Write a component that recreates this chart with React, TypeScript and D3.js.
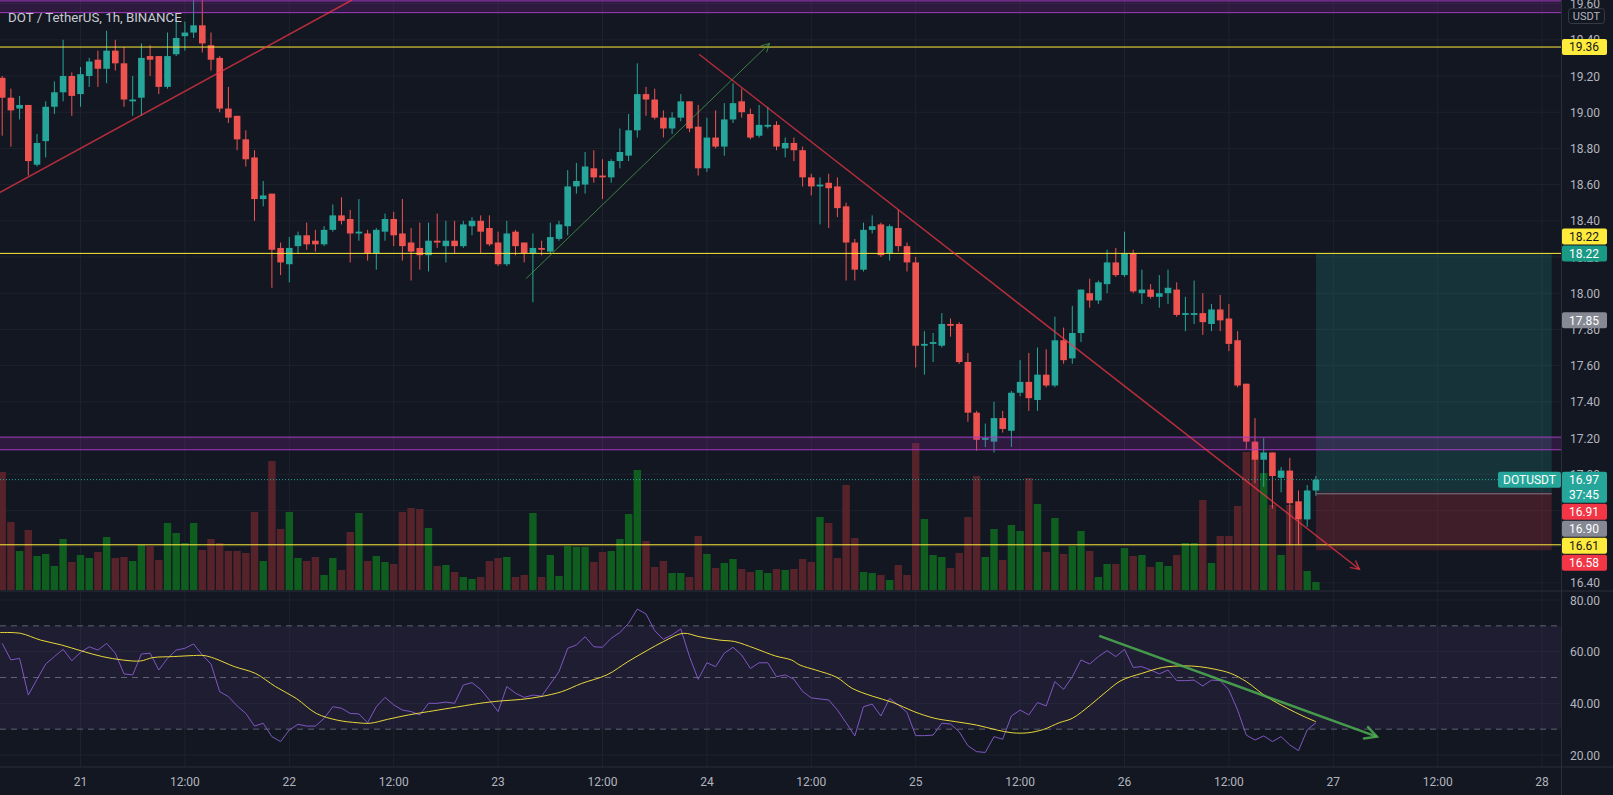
import { useRef, useEffect } from "react";
import * as d3 from "d3";

// first bar is 9 hours before day 21 00:00, one bar per hour
const firstHour = -9;

const open = [
    19.19, 19.08, 19.02, 19.04, 18.71, 18.84, 19.03, 19.11, 19.2, 19.1,
    19.2, 19.29, 19.24, 19.34, 19.27, 19.06, 19.08, 19.31, 19.31, 19.14,
    19.32, 19.42, 19.44, 19.48, 19.37, 19.3, 19.02, 18.98, 18.85, 18.75,
    18.52, 18.55, 18.25, 18.16, 18.26, 18.32, 18.29, 18.27, 18.35, 18.43,
    18.41, 18.33, 18.33, 18.22, 18.34, 18.41, 18.33, 18.28, 18.25, 18.21,
    18.29, 18.26, 18.29, 18.26, 18.37, 18.4, 18.36, 18.28, 18.16, 18.34,
    18.28, 18.22, 18.25, 18.23, 18.3, 18.37, 18.59, 18.6, 18.69, 18.65,
    18.64, 18.73, 18.76, 18.9, 19.1, 19.07, 18.97, 18.91, 18.97, 19.06,
    18.92, 18.69, 18.86, 18.81, 18.96, 19.06, 18.99, 18.87, 18.92, 18.93,
    18.8, 18.83, 18.79, 18.64, 18.59, 18.61, 18.59, 18.48, 18.28, 18.13,
    18.35, 18.38, 18.22, 18.36, 18.26, 18.17, 17.71, 17.72, 17.71, 17.83,
    17.83, 17.62, 17.34, 17.19, 17.18, 17.31, 17.24, 17.45, 17.51, 17.41,
    17.55, 17.49, 17.74, 17.64, 17.78, 18.0, 17.96, 18.05, 18.17, 18.1,
    18.22, 18.0, 18.02, 17.98, 18.0, 18.02, 17.88, 17.88, 17.89, 17.83,
    17.91, 17.86, 17.74, 17.5, 17.18, 17.08, 17.12, 16.98, 17.02, 16.85,
    16.75, 16.91,
];
const high = [
    19.2, 19.13, 19.09, 19.04, 18.88, 19.06, 19.17, 19.4, 19.22, 19.25,
    19.3, 19.34, 19.45, 19.4, 19.36, 19.2, 19.38, 19.37, 19.31, 19.44,
    19.52, 19.5, 19.65, 19.66, 19.44, 19.31, 19.14, 18.98, 18.9, 18.79,
    18.62, 18.55, 18.28, 18.31, 18.34, 18.39, 18.35, 18.37, 18.49, 18.53,
    18.46, 18.52, 18.35, 18.36, 18.44, 18.45, 18.52, 18.36, 18.39, 18.39,
    18.44, 18.4, 18.4, 18.4, 18.42, 18.43, 18.43, 18.34, 18.4, 18.35,
    18.28, 18.33, 18.29, 18.39, 18.4, 18.68, 18.72, 18.78, 18.79, 18.74,
    18.74, 18.91, 18.99, 19.27, 19.14, 19.13, 19.01, 19.0, 19.1, 19.06,
    19.04, 18.97, 19.01, 19.05, 19.16, 19.13, 19.02, 19.04, 19.03, 18.95,
    18.86, 18.86, 18.81, 18.66, 18.64, 18.66, 18.64, 18.5, 18.3, 18.39,
    18.43, 18.39, 18.38, 18.46, 18.28, 18.2, 17.79, 17.78, 17.89, 17.86,
    17.84, 17.67, 17.35, 17.28, 17.4, 17.35, 17.46, 17.63, 17.67, 17.7,
    17.69, 17.87, 17.81, 17.93, 18.02, 18.08, 18.07, 18.24, 18.25, 18.34,
    18.24, 18.13, 18.05, 18.1, 18.13, 18.06, 17.98, 18.07, 18.0, 17.94,
    17.99, 17.94, 17.79, 17.5, 17.31, 17.2, 17.12, 17.04, 17.09, 16.91,
    16.94, 16.99,
];
const low = [
    18.87, 18.81, 18.96, 18.65, 18.7, 18.75, 18.99, 19.06, 18.98, 19.03,
    19.14, 19.14, 19.16, 19.23, 19.03, 18.98, 18.98, 19.2, 19.1, 19.13,
    19.31, 19.34, 19.41, 19.33, 19.23, 19.0, 18.94, 18.79, 18.7, 18.4,
    18.48, 18.03, 18.1, 18.06, 18.22, 18.24, 18.23, 18.26, 18.34, 18.38,
    18.17, 18.29, 18.18, 18.13, 18.29, 18.26, 18.18, 18.07, 18.13, 18.12,
    18.25, 18.17, 18.22, 18.25, 18.32, 18.22, 18.26, 18.15, 18.15, 18.21,
    18.17, 17.95, 18.21, 18.22, 18.29, 18.32, 18.55, 18.55, 18.61, 18.52,
    18.61, 18.69, 18.73, 18.86, 18.98, 18.96, 18.86, 18.88, 18.95, 18.89,
    18.65, 18.67, 18.8, 18.76, 18.94, 18.97, 18.85, 18.86, 18.91, 18.79,
    18.75, 18.73, 18.59, 18.54, 18.38, 18.36, 18.42, 18.07, 18.07, 18.12,
    18.33, 18.2, 18.18, 18.23, 18.12, 17.59, 17.55, 17.62, 17.7, 17.76,
    17.61, 17.29, 17.13, 17.15, 17.12, 17.23, 17.15, 17.43, 17.35, 17.35,
    17.48, 17.48, 17.61, 17.61, 17.73, 17.92, 17.94, 18.0, 18.09, 18.09,
    18.0, 17.94, 17.97, 17.92, 17.94, 17.87, 17.79, 17.83, 17.77, 17.79,
    17.79, 17.68, 17.48, 17.14, 16.95, 16.93, 16.81, 16.9, 16.61, 16.61,
    16.71, 16.88,
];
const close = [
    19.08, 19.01, 19.04, 18.73, 18.83, 19.03, 19.11, 19.2, 19.09, 19.21,
    19.28, 19.24, 19.34, 19.27, 19.07, 19.07, 19.3, 19.29, 19.14, 19.31,
    19.41, 19.44, 19.48, 19.38, 19.29, 19.02, 18.97, 18.85, 18.74, 18.52,
    18.54, 18.24, 18.17, 18.25, 18.32, 18.27, 18.27, 18.35, 18.43, 18.4,
    18.33, 18.34, 18.22, 18.35, 18.41, 18.32, 18.26, 18.23, 18.21, 18.29,
    18.28, 18.29, 18.26, 18.38, 18.4, 18.34, 18.27, 18.16, 18.33, 18.26,
    18.22, 18.25, 18.24, 18.31, 18.38, 18.59, 18.62, 18.7, 18.64, 18.64,
    18.73, 18.78, 18.9, 19.1, 19.07, 18.97, 18.91, 18.97, 19.06, 18.91,
    18.69, 18.86, 18.81, 18.96, 19.05, 19.0, 18.86, 18.93, 18.93, 18.81,
    18.83, 18.79, 18.64, 18.59, 18.6, 18.58, 18.47, 18.28, 18.13, 18.35,
    18.37, 18.21, 18.37, 18.26, 18.17, 17.71, 17.72, 17.73, 17.83, 17.82,
    17.62, 17.34, 17.19, 17.2, 17.31, 17.25, 17.45, 17.51, 17.42, 17.55,
    17.49, 17.74, 17.63, 17.78, 18.02, 17.96, 18.06, 18.17, 18.1, 18.22,
    18.01, 18.02, 17.98, 18.0, 18.03, 17.88, 17.89, 17.89, 17.84, 17.91,
    17.85, 17.72, 17.49, 17.18, 17.08, 17.12, 16.99, 17.02, 16.84, 16.75,
    16.91, 16.97,
];
const volume = [
    118, 68, 39, 60, 34, 36, 24, 51, 28, 35,
    32, 38, 53, 32, 33, 29, 45, 44, 30, 67,
    57, 47, 67, 40, 51, 47, 39, 39, 37, 78,
    29, 129, 61, 78, 32, 29, 33, 15, 32, 20,
    58, 77, 29, 34, 28, 26, 78, 82, 81, 62,
    24, 25, 18, 13, 11, 13, 29, 32, 33, 13,
    15, 77, 13, 35, 14, 44, 43, 43, 28, 38,
    39, 51, 76, 120, 49, 23, 29, 17, 17, 13,
    54, 36, 22, 27, 31, 21, 18, 20, 17, 21,
    20, 21, 31, 28, 73, 67, 32, 105, 52, 18,
    17, 15, 10, 25, 15, 147, 71, 35, 33, 22,
    37, 73, 114, 33, 61, 30, 65, 59, 112, 86,
    38, 72, 36, 44, 59, 39, 13, 26, 26, 42,
    34, 35, 23, 28, 24, 35, 47, 47, 90, 27,
    54, 54, 84, 138, 138, 117, 85, 35, 85, 70,
    19, 8,
];
const rsi = [
    63.2, 56.8, 57.4, 43.2, 49.3, 55.2, 58.1, 60.9, 56.5, 59.7,
    61.9, 60.6, 63.2, 59.4, 51.4, 51.0, 59.1, 59.4, 52.9, 57.4,
    60.6, 61.3, 63.0, 58.7, 55.2, 44.5, 42.6, 39.0, 36.1, 31.2,
    32.3, 27.1, 25.2, 29.7, 31.9, 31.2, 31.2, 34.2, 38.7, 38.1,
    36.1, 35.9, 32.5, 38.7, 42.3, 39.4, 37.4, 36.8, 35.5, 40.0,
    40.0, 40.5, 40.0, 47.1, 48.0, 45.4, 41.3, 36.8, 46.5, 43.9,
    42.3, 43.2, 42.8, 47.5, 52.3, 61.3, 62.6, 65.8, 61.9, 61.7,
    65.2, 67.4, 71.0, 76.5, 74.6, 68.1, 64.8, 66.5, 68.8, 58.1,
    49.3, 55.7, 54.2, 59.4, 61.7, 58.7, 53.5, 55.7, 55.7, 50.3,
    51.0, 49.3, 44.6, 42.1, 41.7, 41.3, 37.4, 32.5, 27.4, 38.7,
    39.7, 35.1, 41.9, 39.4, 36.5, 27.5, 27.5, 27.7, 32.3, 32.0,
    29.0, 23.6, 21.3, 21.0, 27.1, 26.1, 35.1, 37.4, 35.5, 40.3,
    39.0, 48.4, 45.4, 50.3, 56.8, 55.2, 58.1, 60.4, 58.1, 60.9,
    53.9, 54.2, 52.9, 51.4, 52.9, 48.8, 48.8, 49.0, 46.7, 49.0,
    48.8, 45.2, 37.4, 27.7, 25.8, 27.4, 25.2, 27.1, 23.9, 21.7,
    29.7, 32.5,
];
// RSI moving average, read at bar positions (1 = first bar)
const rsiMaBar = [
    0.75, 3.1, 5.4, 7.8, 10.1, 12.5, 14.8, 16.9, 18.3, 20.7, 23.0, 24.2, 25.4, 27.7,
    30.1, 32.4, 34.8, 37.1, 39.5, 41.8, 43.3, 45.3, 47.7, 50, 52.4, 55.9, 58.2, 60.6,
    62.9, 65.3, 67.6, 70.5, 72.9, 75.2, 77, 79.3, 81.1, 83.4, 85.2, 87.5, 89.9, 91.7,
    92.7, 94.5, 96.9, 98.7, 101, 103.4, 105.8, 108.2, 110.6, 113, 115.3, 117.1, 118.9,
    120.7, 122.5, 124, 126.1, 127.9, 129.6, 132, 134.4, 136.8, 138.6, 140.4, 142.2,
    144, 146.3, 148.7, 150.5, 152,
];
const rsiMaValue = [
    67.4, 67.1, 64.5, 62.6, 60.3, 58.1, 56.8, 56.4, 57.7, 58.1, 58.5, 58.5, 57.4, 54.2,
    51.6, 46.5, 41.9, 36.1, 33.5, 32.5, 32.3, 33.8, 35.5, 36.8, 38.1, 40, 40.9, 41.5,
    42.6, 44.5, 47.7, 51, 56.1, 60.6, 63.9, 67.1, 65.8, 64.5, 63.9, 61.3, 58.3, 56.8,
    54.8, 52.9, 50.1, 45.8, 42.8, 40.3, 36.8, 34.2, 32.9, 31.6, 29.7, 28.6, 28.6,
    29.9, 32.5, 34.2, 39.4, 44.5, 48.8, 51.6, 53.9, 54.5, 54.2, 53.2, 51.6,
    48.4, 42.6, 38.1, 35.1, 32.9,
];

const timeTickHours = [0, 12, 24, 36, 48, 60, 72, 84, 96, 108, 120, 132, 144, 156, 168];
const timeTickLabels = ["21", "12:00", "22", "12:00", "23", "12:00", "24", "12:00", "25", "12:00", "26", "12:00", "27", "12:00", "28"];
const priceTicks = [16.4, 16.6, 16.8, 17.0, 17.2, 17.4, 17.6, 17.8, 18.0, 18.2, 18.4, 18.6, 18.8, 19.0, 19.2, 19.4, 19.6];
const rsiTicks = [80, 60, 40, 20];
const rsiLevels = [70, 50, 30];

const horizontalLines = [19.36, 18.22, 16.61];
const zoneLow = [19.55, 17.135];
const zoneHigh = [19.615, 17.205];

// trend lines: [hour, price]
const trendFrom = [[-9.5, 18.55], [51.2, 18.08], [71.1, 19.32]];
const trendTo = [[31.2, 19.62], [79.2, 19.38], [147, 16.475]];
const trendColor = ["rgba(242,54,69,0.72)", "rgba(76,175,80,0.7)", "rgba(242,54,69,0.72)"];
const trendWidth = [1.5, 1, 1.5];
const trendArrow = [false, true, true];

// rsi arrow: [hour, rsi]
const rsiArrowFrom = [117.1, 66.1];
const rsiArrowTo = [149, 27.1];

// long position tool
const positionHours = [142, 169.1];
const positionEntry = 16.9;
const positionTarget = 18.22;
const positionStop = 16.58;

const labelPrice = [19.36, 18.22, 18.22, 17.85, 16.97, 16.91, 16.9, 16.61, 16.58];
const labelText = ["19.36", "18.22", "18.22", "17.85", "16.97", "16.91", "16.90", "16.61", "16.58"];
const labelSub = ["", "", "", "", "37:45", "", "", "", ""];
const labelBg = ["#ffeb3b", "#1a9985", "#ffeb3b", "#868993", "#26a69a", "#f23645", "#868993", "#ffeb3b", "#f23645"];
const labelFg = ["#131722", "#ffffff", "#131722", "#ffffff", "#ffffff", "#ffffff", "#ffffff", "#131722", "#ffffff"];
const labelDir = [1, 1, -1, 1, 1, 1, 1, 1, 1];

const UP = "#26a69a";
const DOWN = "#ef5350";
const VOL_UP = "#105d20";
const VOL_DOWN = "#57232b";
const BG = "#131722";
const GRID = "#1e222d";
const TEXT = "#b2b5be";
const FONT = "Roboto, 'Noto Sans', sans-serif";

const App = () => {
    const svgRef = useRef<SVGSVGElement>(null);

    useEffect(() => {
        document.body.style.margin = "0";
        document.body.style.background = BG;
        if (!svgRef.current) return;

        const svg = d3.select(svgRef.current);
        svg.selectAll("*").remove();

        const width = 1613;
        const height = 795;
        const plotRight = 1561;
        const priceBottom = 590;
        const rsiTop = 592;
        const rsiBottom = 767;

        const x = d3.scaleLinear().domain([0, 168]).range([80.5, 1542.1]);
        const y = d3.scaleLinear().domain([19.2, 16.4]).range([76, 582.8]);
        const yR = d3.scaleLinear().domain([80, 20]).range([600, 755]);
        const yV = d3.scaleLinear().domain([0, 150]).range([priceBottom, priceBottom - 150]);

        const bars = d3.range(open.length).map((i) => ({
            h: firstHour + i,
            o: open[i],
            hi: high[i],
            lo: low[i],
            c: close[i],
            v: volume[i],
            r: rsi[i],
        }));
        const isUp = (d: any) => d.c >= d.o;

        svg.append("rect").attr("width", width).attr("height", height).attr("fill", BG);

        const defs = svg.append("defs");
        defs.append("clipPath").attr("id", "clipPrice")
            .append("rect").attr("x", 0).attr("y", 0).attr("width", plotRight).attr("height", priceBottom);
        defs.append("clipPath").attr("id", "clipRsi")
            .append("rect").attr("x", 0).attr("y", rsiTop).attr("width", plotRight).attr("height", rsiBottom - rsiTop);

        // grid
        const grid = svg.append("g").attr("stroke", GRID).attr("stroke-width", 1);
        timeTickHours.forEach((t) => {
            grid.append("line").attr("x1", x(t)).attr("x2", x(t)).attr("y1", 0).attr("y2", rsiBottom);
        });
        priceTicks.forEach((p) => {
            grid.append("line").attr("x1", 0).attr("x2", plotRight).attr("y1", y(p)).attr("y2", y(p));
        });
        rsiTicks.forEach((v) => {
            grid.append("line").attr("x1", 0).attr("x2", plotRight).attr("y1", yR(v)).attr("y2", yR(v));
        });

        // ---------- price pane ----------
        const pg = svg.append("g").attr("clip-path", "url(#clipPrice)");

        pg.append("g").selectAll("rect").data(bars).join("rect")
            .attr("x", (d) => x(d.h) - 3.7)
            .attr("width", 7.4)
            .attr("y", (d) => yV(d.v))
            .attr("height", (d) => yV(0) - yV(d.v))
            .attr("fill", (d) => (isUp(d) ? VOL_UP : VOL_DOWN));

        const cg = pg.append("g");
        cg.selectAll("line").data(bars).join("line")
            .attr("x1", (d) => x(d.h))
            .attr("x2", (d) => x(d.h))
            .attr("y1", (d) => y(d.hi))
            .attr("y2", (d) => y(d.lo))
            .attr("stroke", (d) => (isUp(d) ? UP : DOWN))
            .attr("stroke-width", 1);
        cg.selectAll("rect").data(bars).join("rect")
            .attr("x", (d) => x(d.h) - 3.3)
            .attr("width", 6.6)
            .attr("y", (d) => y(Math.max(d.o, d.c)))
            .attr("height", (d) => Math.max(1, Math.abs(y(d.o) - y(d.c))))
            .attr("fill", (d) => (isUp(d) ? UP : DOWN));

        // long position
        const px0 = x(positionHours[0]);
        const px1 = x(positionHours[1]);
        pg.append("rect").attr("x", px0).attr("width", px1 - px0)
            .attr("y", y(positionTarget)).attr("height", y(positionEntry) - y(positionTarget))
            .attr("fill", "rgba(38,166,154,0.2)");
        pg.append("rect").attr("x", px0).attr("width", px1 - px0)
            .attr("y", y(positionEntry)).attr("height", y(positionStop) - y(positionEntry))
            .attr("fill", "rgba(242,54,69,0.2)");
        pg.append("line").attr("x1", px0).attr("x2", px1)
            .attr("y1", y(positionEntry) + 1.5).attr("y2", y(positionEntry) + 1.5)
            .attr("stroke", "#787b86").attr("stroke-width", 1);

        // zones
        zoneLow.forEach((lo, i) => {
            const hi = zoneHigh[i];
            pg.append("rect").attr("x", 0).attr("width", plotRight)
                .attr("y", y(hi)).attr("height", y(lo) - y(hi))
                .attr("fill", "rgba(156,39,176,0.2)");
            [lo, hi].forEach((p) => {
                pg.append("line").attr("x1", 0).attr("x2", plotRight).attr("y1", y(p)).attr("y2", y(p))
                    .attr("stroke", "#a33bc0").attr("stroke-width", 1);
            });
        });

        // horizontal lines
        horizontalLines.forEach((p) => {
            pg.append("line").attr("x1", 0).attr("x2", plotRight).attr("y1", y(p)).attr("y2", y(p))
                .attr("stroke", "#ffeb3b").attr("stroke-width", 1);
        });

        const arrowHead = (g: any, x0: number, y0: number, x1: number, y1: number, len: number, color: string, w: number) => {
            const a = Math.atan2(y1 - y0, x1 - x0);
            const sp = Math.PI / 6.5;
            const p = d3.path();
            p.moveTo(x1 - len * Math.cos(a - sp), y1 - len * Math.sin(a - sp));
            p.lineTo(x1, y1);
            p.lineTo(x1 - len * Math.cos(a + sp), y1 - len * Math.sin(a + sp));
            g.append("path").attr("d", p.toString()).attr("fill", "none")
                .attr("stroke", color).attr("stroke-width", w).attr("stroke-linecap", "round");
        };

        // trend lines
        trendFrom.forEach((f, i) => {
            const t = trendTo[i];
            const x0 = x(f[0]), y0 = y(f[1]), x1 = x(t[0]), y1 = y(t[1]);
            pg.append("line").attr("x1", x0).attr("y1", y0).attr("x2", x1).attr("y2", y1)
                .attr("stroke", trendColor[i]).attr("stroke-width", trendWidth[i]);
            if (trendArrow[i]) arrowHead(pg, x0, y0, x1, y1, 9, trendColor[i], trendWidth[i]);
        });

        // last price line
        const last = bars[bars.length - 1];
        pg.append("line").attr("x1", 0).attr("x2", plotRight).attr("y1", y(last.c)).attr("y2", y(last.c))
            .attr("stroke", UP).attr("stroke-width", 1).attr("stroke-dasharray", "1,2");
        pg.append("rect").attr("x", plotRight - 63).attr("width", 63)
            .attr("y", y(last.c) - 8).attr("height", 16).attr("rx", 2).attr("fill", UP);
        pg.append("text").attr("x", plotRight - 31.5).attr("y", y(last.c) + 4.5)
            .attr("text-anchor", "middle").attr("fill", "#ffffff")
            .attr("font-family", FONT).attr("font-size", 12).text("DOTUSDT");

        // title
        svg.append("text").attr("x", 8).attr("y", 21.5)
            .attr("fill", "#c9cbd2").attr("font-family", FONT).attr("font-size", 13.3)
            .text("DOT / TetherUS, 1h, BINANCE");

        // ---------- RSI pane ----------
        const rg = svg.append("g").attr("clip-path", "url(#clipRsi)");
        rg.append("rect").attr("x", 0).attr("width", plotRight)
            .attr("y", yR(70)).attr("height", yR(30) - yR(70))
            .attr("fill", "rgba(126,87,194,0.1)");
        rsiLevels.forEach((v) => {
            rg.append("line").attr("x1", 0).attr("x2", plotRight).attr("y1", yR(v)).attr("y2", yR(v))
                .attr("stroke", "#787b86").attr("stroke-opacity", 0.75)
                .attr("stroke-width", 1).attr("stroke-dasharray", "6,5");
        });

        const rsiLine = d3.line<any>().x((d) => x(d.h)).y((d) => yR(d.r));
        rg.append("path").attr("d", rsiLine(bars)).attr("fill", "none")
            .attr("stroke", "#7e57c2").attr("stroke-width", 1);

        const maPts = rsiMaBar.map((b, i) => [x(firstHour + b - 1), yR(rsiMaValue[i])] as [number, number]);
        const maLine = d3.line().curve(d3.curveCatmullRom);
        rg.append("path").attr("d", maLine(maPts)).attr("fill", "none")
            .attr("stroke", "#ffeb3b").attr("stroke-opacity", 0.9).attr("stroke-width", 1);

        const ax0 = x(rsiArrowFrom[0]), ay0 = yR(rsiArrowFrom[1]);
        const ax1 = x(rsiArrowTo[0]), ay1 = yR(rsiArrowTo[1]);
        rg.append("line").attr("x1", ax0).attr("y1", ay0).attr("x2", ax1).attr("y2", ay1)
            .attr("stroke", "rgba(76,175,80,0.85)").attr("stroke-width", 2.5);
        arrowHead(rg, ax0, ay0, ax1, ay1, 13, "rgba(76,175,80,0.85)", 2.5);

        // ---------- separators ----------
        const sep = svg.append("g").attr("stroke", "#2a2e39").attr("stroke-width", 1);
        sep.append("line").attr("x1", 0).attr("x2", width).attr("y1", 591).attr("y2", 591);
        sep.append("line").attr("x1", 0).attr("x2", width).attr("y1", rsiBottom).attr("y2", rsiBottom);
        sep.append("line").attr("x1", plotRight + 0.5).attr("x2", plotRight + 0.5).attr("y1", 0).attr("y2", height);

        // ---------- axes ----------
        const axisText = svg.append("g").attr("font-family", FONT).attr("font-size", 12).attr("fill", TEXT);
        priceTicks.forEach((p) => {
            axisText.append("text").attr("x", 1585).attr("y", y(p) + 4.5).attr("text-anchor", "middle")
                .text(p.toFixed(2));
        });
        rsiTicks.forEach((v) => {
            axisText.append("text").attr("x", 1585).attr("y", yR(v) + 4.5).attr("text-anchor", "middle")
                .text(v.toFixed(2));
        });
        timeTickHours.forEach((t, i) => {
            axisText.append("text").attr("x", x(t)).attr("y", 785.5).attr("text-anchor", "middle")
                .text(timeTickLabels[i]);
        });

        // currency box
        svg.append("rect").attr("x", 1568.5).attr("y", 8.5).attr("width", 36).attr("height", 15).attr("rx", 3)
            .attr("fill", BG).attr("stroke", "#363a45");
        svg.append("text").attr("x", 1586.5).attr("y", 20).attr("text-anchor", "middle")
            .attr("font-family", FONT).attr("font-size", 11).attr("fill", TEXT).text("USDT");

        // price labels with simple collision avoidance
        const placed: { top: number; bottom: number }[] = [];
        labelPrice.forEach((p, i) => {
            const hgt = labelSub[i] ? 31 : 16;
            let top = y(p) - 8;
            for (let k = 0; k < 20; k++) {
                const hit = placed.find((b) => top < b.bottom + 1 && top + hgt > b.top - 1);
                if (!hit) break;
                top = labelDir[i] > 0 ? hit.bottom + 1 : hit.top - 1 - hgt;
            }
            placed.push({ top, bottom: top + hgt });
            svg.append("rect").attr("x", plotRight + 1).attr("y", top).attr("width", 45).attr("height", hgt)
                .attr("rx", 2).attr("fill", labelBg[i]);
            svg.append("text").attr("x", 1584).attr("y", top + 12.2).attr("text-anchor", "middle")
                .attr("font-family", FONT).attr("font-size", 12).attr("fill", labelFg[i]).text(labelText[i]);
            if (labelSub[i]) {
                svg.append("text").attr("x", 1584).attr("y", top + 27).attr("text-anchor", "middle")
                    .attr("font-family", FONT).attr("font-size", 12).attr("fill", labelFg[i]).text(labelSub[i]);
            }
        });
    }, []);

    return <svg ref={svgRef} width={1613} height={795} style={{ display: "block" }} />;
};

export default App;
